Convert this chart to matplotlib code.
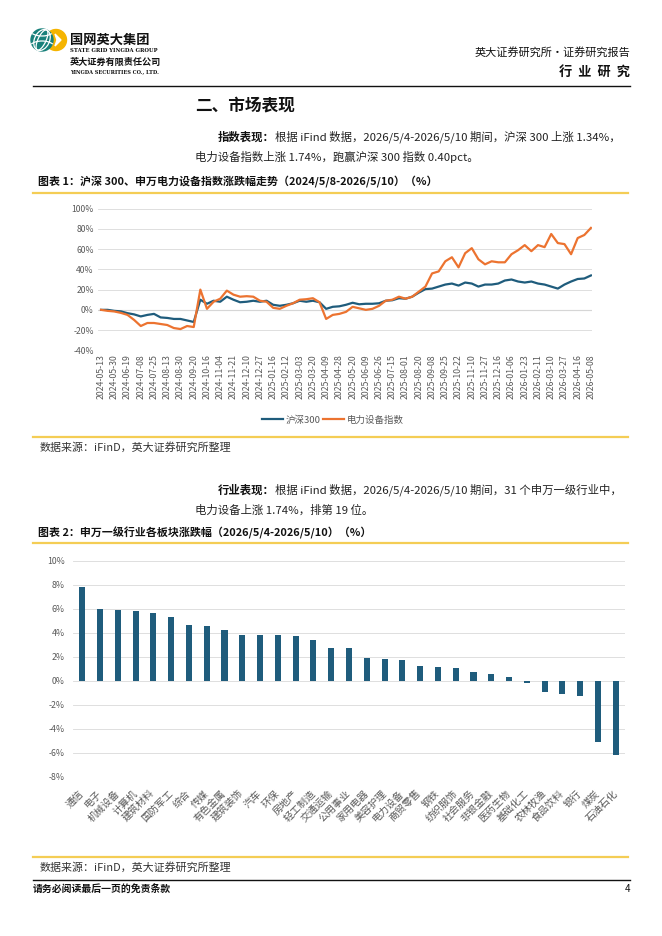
import numpy as np
import matplotlib
matplotlib.use("Agg")
import matplotlib.pyplot as plt
from matplotlib.lines import Line2D
from matplotlib.patches import Circle, Arc, Polygon

plt.rcParams['font.family'] = ['Noto Sans CJK SC', 'DejaVu Sans']
plt.rcParams['axes.unicode_minus'] = False

# ---------------- data ----------------
# chart 1: cumulative change (%), sampled every half tick interval
date_ticks = [
    "2024-05-13", "2024-05-30", "2024-06-19", "2024-07-08", "2024-07-25", "2024-08-13",
    "2024-08-30", "2024-09-20", "2024-10-16", "2024-11-04", "2024-11-21", "2024-12-10",
    "2024-12-27", "2025-01-16", "2025-02-12", "2025-03-03", "2025-03-20", "2025-04-09",
    "2025-04-28", "2025-05-20", "2025-06-09", "2025-06-26", "2025-07-15", "2025-08-01",
    "2025-08-20", "2025-09-08", "2025-09-25", "2025-10-22", "2025-11-10", "2025-11-27",
    "2025-12-16", "2026-01-06", "2026-01-23", "2026-02-11", "2026-03-10", "2026-03-27",
    "2026-04-16", "2026-05-08",
]
hs300 = [
    0, 0, -1, -1.5, -3.3, -4.5, -6.5, -5, -4, -7.5, -8, -9, -9, -10.5, -12, 10,
    6, 9, 8, 13, 10, 7.5, 8, 9, 8, 9, 5, 4, 5, 6.5, 9, 8,
    9, 7.5, 1, 3, 3.5, 5, 7, 5.5, 6, 6, 6.5, 9, 9.5, 11.5, 11, 13,
    17, 20.5, 21, 23, 25, 26, 24, 27, 26, 23, 25, 25, 26, 29, 30, 28,
    27, 28, 26, 25, 23, 21, 25, 28, 30.5, 31, 34,
]
elec = [
    0, -1, -1.6, -3, -5, -10, -16, -13, -13, -14, -15, -18, -19, -16, -17, 20,
    1, 8, 11, 19, 15, 13, 13.5, 13, 9, 8, 2, 1, 4, 6.5, 10, 10.5,
    11.5, 7.5, -9, -5, -4, -2, 3, 1.5, 0, 1, 4, 9, 10, 13, 11, 13,
    18, 23, 36, 38, 48, 52, 42, 56, 61, 50, 45, 48, 47, 47, 55, 59,
    64, 58, 64, 62, 75, 66, 65, 55, 71, 74, 81,
]

# chart 2: weekly change (%) of SW level-1 industries
industries = [
    "通信", "电子", "机械设备", "计算机", "建筑材料", "国防军工", "综合", "传媒",
    "有色金属", "建筑装饰", "汽车", "环保", "房地产", "轻工制造", "交通运输", "公用事业",
    "家用电器", "美容护理", "电力设备", "商贸零售", "钢铁", "纺织服饰", "社会服务",
    "非银金融", "医药生物", "基础化工", "农林牧渔", "食品饮料", "银行", "煤炭", "石油石化",
]
weekly = [
    7.82, 6.01, 5.86, 5.78, 5.67, 5.28, 4.64, 4.56, 4.22, 3.81, 3.78, 3.78, 3.69,
    3.39, 2.72, 2.69, 1.86, 1.81, 1.74, 1.25, 1.11, 1.06, 0.72, 0.56, 0.31,
    -0.19, -0.97, -1.14, -1.25, -5.08, -6.17,
]

W, H = 662, 936
BLUE = "#1f5c7c"
ORANGE = "#ec7330"
YELLOW = "#f4cd55"
GRAY = "#595959"
BODY = 8.2


def fx(x):
    return x / W


def fy(y):
    return 1 - y / H


def hline(fig, y, x0, x1, color, lw):
    fig.add_artist(Line2D([fx(x0), fx(x1)], [fy(y), fy(y)], color=color, lw=lw,
                          transform=fig.transFigure))


def bold_then_normal(fig, x, y, bold, normal, size):
    t = fig.text(fx(x), fy(y), bold, fontsize=size, fontweight="bold", va="center", color="#111111")
    r = fig.canvas.get_renderer()
    bb = t.get_window_extent(renderer=r)
    fig.text(bb.x1 / fig.dpi / fig.get_figwidth(), fy(y), normal, fontsize=size,
             va="center", color="#222222")


def draw_logo(fig):
    ax = fig.add_axes([fx(25), fy(58), fx(45), 33 / H])
    ax.set_xlim(25, 70)
    ax.set_ylim(58, 25)
    ax.set_aspect("equal")
    ax.axis("off")
    ax.add_patch(Circle((56, 40), 10.5, color="#f5b400"))
    ax.add_patch(Polygon([[55, 34], [61, 40], [55, 46], [57, 40]], color="white"))
    ax.add_patch(Circle((42, 40), 11, color="#17807a"))
    for w in (8, 15):
        ax.add_patch(Arc((42, 40), w, 22, angle=25, color="white", lw=0.9))
    ax.add_patch(Arc((42, 48), 26, 14, theta1=200, theta2=340, color="white", lw=0.9))
    ax.add_patch(Arc((42, 30), 24, 12, theta1=20, theta2=160, color="white", lw=0.9))


def main():
    fig = plt.figure(figsize=(W / 100, H / 100), dpi=100)

    # header
    draw_logo(fig)
    fig.text(fx(70), fy(40), "国网英大集团", fontsize=9.5, fontweight="bold", va="center", color="#111")
    fig.text(fx(70), fy(51), "STATE GRID YINGDA GROUP", fontsize=3.8, fontweight="bold",
             family="DejaVu Serif", va="center", color="#111")
    fig.text(fx(70), fy(62), "英大证券有限责任公司", fontsize=6.6, fontweight="bold", va="center", color="#111")
    fig.text(fx(70), fy(72), "YINGDA SECURITIES CO., LTD.", fontsize=3.6, fontweight="bold",
             family="DejaVu Serif", va="center", color="#111")
    fig.text(fx(630), fy(52), "英大证券研究所•证券研究报告", fontsize=8, ha="right", va="center", color="#111")
    fig.text(fx(630), fy(72), "行  业  研  究", fontsize=9.5, fontweight="bold", ha="right", va="center", color="#111")
    hline(fig, 86, 33, 630, "#111111", 1.0)

    fig.text(fx(195), fy(105), "二、市场表现", fontsize=12, fontweight="bold", va="center", color="#111")
    bold_then_normal(fig, 218, 137, "指数表现：",
                     "根据 iFind 数据，2026/5/4-2026/5/10 期间，沪深 300 上涨 1.34%，", BODY)
    fig.text(fx(195), fy(157), "电力设备指数上涨 1.74%，跑赢沪深 300 指数 0.40pct。", fontsize=BODY,
             va="center", color="#222")

    # chart 1
    fig.text(fx(38), fy(181), "图表 1：沪深 300、申万电力设备指数涨跌幅走势（2024/5/8-2026/5/10）（%）",
             fontsize=7.9, fontweight="bold", va="center", color="#111")
    hline(fig, 193, 33, 628, YELLOW, 1.6)

    ax1 = fig.add_axes([fx(98), fy(350.3), (592 - 98) / W, (350.3 - 208.7) / H])
    xs = np.arange(len(hs300)) / 2
    ax1.plot(xs, hs300, color=BLUE, lw=1.6, label="沪深300", zorder=3)
    ax1.plot(xs, elec, color=ORANGE, lw=1.6, label="电力设备指数", zorder=3)
    ax1.set_xlim(-0.23, 37.08)
    ax1.set_ylim(-40, 100)
    ax1.set_yticks(np.arange(-40, 101, 20))
    ax1.set_yticklabels([f"{v}%" for v in range(-40, 101, 20)], fontsize=6.2, color=GRAY)
    ax1.set_xticks(np.arange(len(date_ticks)))
    ax1.set_xticklabels(date_ticks, rotation=90, fontsize=6.3, color=GRAY)
    ax1.tick_params(length=0, pad=3)
    ax1.grid(axis="y", color="#d9d9d9", lw=0.6)
    ax1.axhline(0, color="#c8c8c8", lw=0.8, zorder=1)
    for s in ax1.spines.values():
        s.set_visible(False)
    fig.legend(loc="center", bbox_to_anchor=(fx(333), fy(420)), ncol=2, frameon=False,
               fontsize=6.8, handlelength=2.2, columnspacing=0.2, handletextpad=0.3,
               labelcolor=GRAY)

    hline(fig, 437, 33, 628, YELLOW, 1.6)
    fig.text(fx(40), fy(447), "数据来源：iFinD，英大证券研究所整理", fontsize=7.9, va="center", color="#333")

    bold_then_normal(fig, 218, 490, "行业表现：",
                     "根据 iFind 数据，2026/5/4-2026/5/10 期间，31 个申万一级行业中，", BODY)
    fig.text(fx(195), fy(510), "电力设备上涨 1.74%，排第 19 位。", fontsize=BODY, va="center", color="#222")

    # chart 2
    fig.text(fx(38), fy(533), "图表 2：申万一级行业各板块涨跌幅（2026/5/4-2026/5/10）（%）",
             fontsize=7.9, fontweight="bold", va="center", color="#111")
    hline(fig, 543, 33, 628, YELLOW, 1.6)

    ax2 = fig.add_axes([fx(73), fy(776.7), (625 - 73) / W, 216 / H])
    pos = np.arange(len(industries))
    ax2.bar(pos, weekly, width=0.34, color=BLUE, zorder=3)
    ax2.set_xlim(-0.52, len(industries) - 0.48)
    ax2.set_ylim(-8, 10)
    ax2.set_yticks(np.arange(-8, 11, 2))
    ax2.set_yticklabels([f"{v}%" for v in range(-8, 11, 2)], fontsize=6.3, color=GRAY)
    ax2.set_xticks(pos)
    ax2.set_xticklabels(industries, rotation=45, ha="right", va="center", rotation_mode="anchor",
                        fontsize=7.2, color=GRAY)
    ax2.tick_params(axis="x", length=0, pad=11)
    ax2.tick_params(axis="y", length=0, pad=6)
    ax2.grid(axis="y", color="#d9d9d9", lw=0.6)
    for s in ax2.spines.values():
        s.set_visible(False)

    hline(fig, 857, 33, 628, YELLOW, 1.6)
    fig.text(fx(40), fy(867), "数据来源：iFinD，英大证券研究所整理", fontsize=7.9, va="center", color="#333")

    # footer
    hline(fig, 880, 33, 630, "#111111", 1.0)
    fig.text(fx(33), fy(889), "请务必阅读最后一页的免责条款", fontsize=7.1, fontweight="bold", va="center", color="#111")
    fig.text(fx(630), fy(889), "4", fontsize=7.1, ha="right", va="center", color="#111")

    fig.savefig("out.png", dpi=100)
    plt.close(fig)


if __name__ == "__main__":
    main()
